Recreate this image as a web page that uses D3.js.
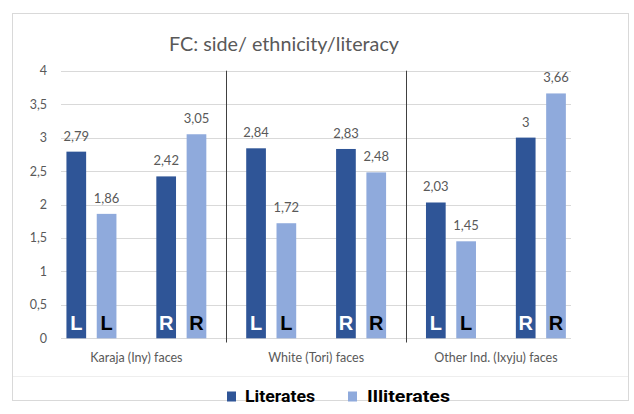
<!DOCTYPE html>
<html>
<head>
<meta charset="utf-8">
<script src="https://cdn.jsdelivr.net/npm/d3@7"></script>
<style>
  html, body { margin: 0; padding: 0; background: #fff; }
  svg { display: block; }
</style>
</head>
<body>
<svg id="chart" width="634" height="414"></svg>
<script>
// Face groups and the side (Left / Right) shown for each bar pair
const groups = ["Karaja (Iny) faces", "White (Tori) faces", "Other Ind. (Ixyju) faces"];
const sides = ["L", "R", "L", "R", "L", "R"];
// Mean FC per group/side, one value per series
const literates = [2.79, 2.42, 2.84, 2.83, 2.03, 3.00];
const illiterates = [1.86, 3.05, 1.72, 2.48, 1.45, 3.66];
const seriesNames = ["Literates", "Illiterates"];
const yTicks = [0, 0.5, 1, 1.5, 2, 2.5, 3, 3.5, 4];

const colors = { Literates: "#2F5597", Illiterates: "#8FAADC" };
const sideColors = { Literates: "#ffffff", Illiterates: "#000000" };
const textGray = "#595959";
const fmt = v => String(+v.toFixed(2)).replace(".", ",");

const svg = d3.select("#chart");

// Outer frame and the rule above the legend
svg.append("rect")
  .attr("x", 12.5).attr("y", 13.5).attr("width", 616).attr("height", 387)
  .attr("fill", "#fff").attr("stroke", "#d9d9d9").attr("stroke-width", 1);
svg.append("line")
  .attr("x1", 13).attr("x2", 628).attr("y1", 376.5).attr("y2", 376.5)
  .attr("stroke", "#eeeeee");

// Title
svg.append("text")
  .attr("x", 284).attr("y", 51)
  .attr("text-anchor", "middle")
  .attr("font-family", "Lato, 'Open Sans', sans-serif")
  .attr("font-size", 20)
  .attr("fill", textGray)
  .attr("textLength", 230).attr("lengthAdjust", "spacingAndGlyphs")
  .text("FC: side/ ethnicity/literacy");

const plotLeft = 46.5, plotRight = 585.8;
const gridLeft = 61, gridRight = 571;

const y = d3.scaleLinear().domain([0, 4]).range([338.3, 70.7]);
const x = d3.scaleBand().domain(d3.range(sides.length)).range([plotLeft, plotRight]).padding(0);
const xg = d3.scaleBand().domain(d3.range(groups.length)).range([plotLeft, plotRight]).padding(0);

// Gridlines
svg.append("g").selectAll("line").data(yTicks).join("line")
  .attr("x1", gridLeft).attr("x2", gridRight)
  .attr("y1", d => Math.round(y(d)) + 0.5).attr("y2", d => Math.round(y(d)) + 0.5)
  .attr("stroke", "#d9d9d9").attr("stroke-width", 1);

// Y axis labels
const yAxis = d3.axisLeft(y).tickValues(yTicks).tickFormat(fmt).tickSize(0).tickPadding(0);
const yg = svg.append("g").attr("transform", "translate(47,0)").call(yAxis);
yg.select(".domain").remove();
yg.selectAll("text")
  .attr("font-family", "Lato, 'Open Sans', sans-serif")
  .attr("font-size", 12.5)
  .attr("fill", textGray);

// Group dividers
svg.append("g").selectAll("line").data([1, 2]).join("line")
  .attr("x1", d => Math.round(xg(d)) + 0.5).attr("x2", d => Math.round(xg(d)) + 0.5)
  .attr("y1", y(4)).attr("y2", 342.5)
  .attr("stroke", "#404040").attr("stroke-width", 1);

// Bars
const inner = d3.scaleBand().domain(seriesNames).range([-25, 25]).paddingInner(0.35);
const rows = [];
sides.forEach((s, i) => {
  rows.push({ i, side: s, series: "Literates", value: literates[i] });
  rows.push({ i, side: s, series: "Illiterates", value: illiterates[i] });
});
const cx = i => x(i) + x.bandwidth() / 2;

const bars = svg.append("g");
bars.selectAll("rect").data(rows).join("rect")
  .attr("x", d => cx(d.i) + inner(d.series))
  .attr("width", inner.bandwidth())
  .attr("y", d => y(d.value))
  .attr("height", d => y(0) - y(d.value))
  .attr("fill", d => colors[d.series]);

// Value labels
bars.selectAll("text.val").data(rows).join("text")
  .attr("class", "val")
  .attr("x", d => cx(d.i) + inner(d.series) + inner.bandwidth() / 2)
  .attr("y", d => y(d.value) - 11)
  .attr("text-anchor", "middle")
  .attr("font-family", "Lato, 'Open Sans', sans-serif")
  .attr("font-size", 13)
  .attr("fill", textGray)
  .text(d => fmt(d.value));

// Side letters inside bars
bars.selectAll("text.side").data(rows).join("text")
  .attr("class", "side")
  .attr("x", d => cx(d.i) + inner(d.series) + inner.bandwidth() / 2)
  .attr("y", 330)
  .attr("text-anchor", "middle")
  .attr("font-family", "'Liberation Sans', Arial, sans-serif")
  .attr("font-weight", 700)
  .attr("font-size", 20)
  .attr("fill", d => sideColors[d.series])
  .text(d => d.side);

// Category labels
svg.append("g").selectAll("text").data(groups).join("text")
  .attr("x", (d, i) => xg(i) + xg.bandwidth() / 2)
  .attr("y", 362)
  .attr("text-anchor", "middle")
  .attr("font-family", "Lato, 'Open Sans', sans-serif")
  .attr("font-size", 12.5)
  .attr("fill", textGray)
  .text(d => d);

// Legend
const legendItems = [
  { name: "Literates", sx: 227, tx: 245, w: 70 },
  { name: "Illiterates", sx: 348, tx: 367, w: 83 }
];
const lg = svg.append("g");
lg.selectAll("rect").data(legendItems).join("rect")
  .attr("x", d => d.sx).attr("y", 391.5)
  .attr("width", 9).attr("height", 10)
  .attr("fill", d => colors[d.name]);
lg.selectAll("text").data(legendItems).join("text")
  .attr("x", d => d.tx).attr("y", 402)
  .attr("font-family", "Roboto, 'DejaVu Sans', sans-serif")
  .attr("font-weight", 700)
  .attr("font-size", 17)
  .attr("fill", "#000")
  .attr("textLength", d => d.w).attr("lengthAdjust", "spacingAndGlyphs")
  .text(d => d.name);
</script>
</body>
</html>
